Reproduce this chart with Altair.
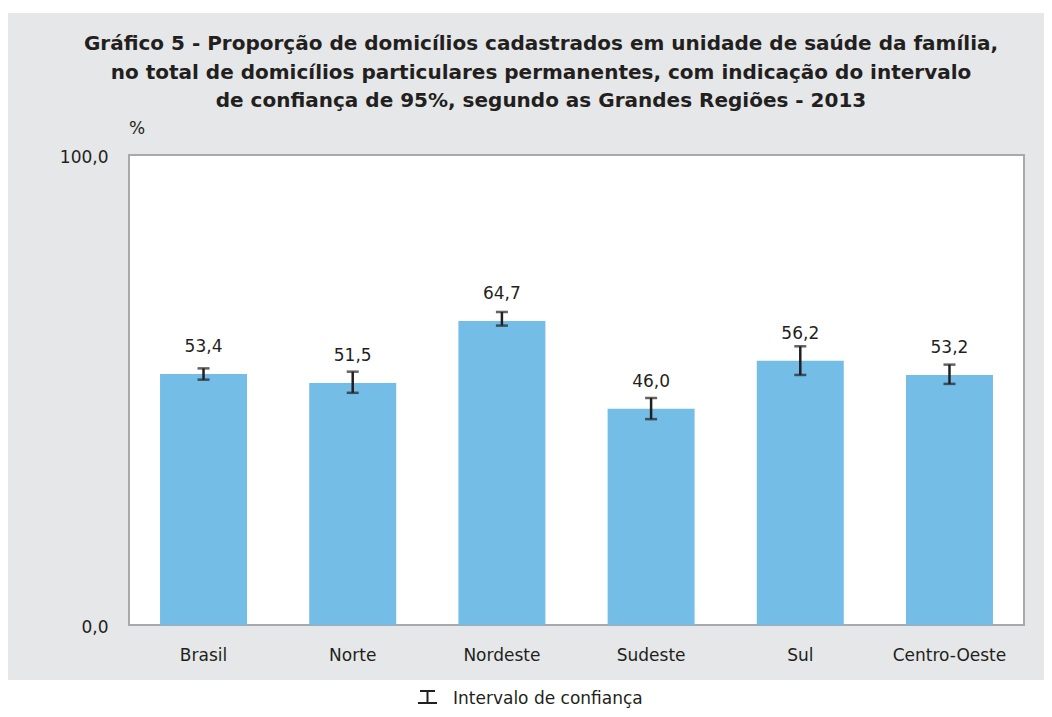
import altair as alt
import pandas as pd

regions = ["Brasil", "Norte", "Nordeste", "Sudeste", "Sul", "Centro-Oeste"]
values = [53.4, 51.5, 64.7, 46.0, 56.2, 53.2]
ci_low = [52.2, 49.4, 63.7, 43.8, 53.2, 51.3]
ci_high = [54.6, 53.9, 66.6, 48.3, 59.3, 55.4]
labels = ["53,4", "51,5", "64,7", "46,0", "56,2", "53,2"]

title_lines = [
    "Gráfico 5 - Proporção de domicílios cadastrados em unidade de saúde da família,",
    "no total de domicílios particulares permanentes, com indicação do intervalo",
    "de confiança de 95%, segundo as Grandes Regiões - 2013",
]
legend_label = "Intervalo de confiança"

df = pd.DataFrame({"regiao": regions, "valor": values, "lo": ci_low, "hi": ci_high, "rotulo": labels})

W, H = 895, 470
FONT = "DejaVu Sans"
TXT = "#231f20"
FS = 17

x_enc = alt.X("regiao:N", sort=regions, title=None,
              scale=alt.Scale(paddingInner=0.417, paddingOuter=0.208),
              axis=alt.Axis(labelFontSize=FS, labelColor=TXT, labelFont=FONT, ticks=False,
                            domain=False, labelPadding=22, labelAngle=0, zindex=1))
y_scale = alt.Scale(domain=[0, 100], nice=False)

base = alt.Chart(df)

# gray panel background
bg = alt.Chart(pd.DataFrame({"k": [1]})).mark_rect(color="#e6e7e8").encode(
    x=alt.value(-121), x2=alt.value(930), y=alt.value(-142), y2=alt.value(525))
# white plot area
plot_bg = alt.Chart(pd.DataFrame({"k": [1]})).mark_rect(
    color="white", stroke="#a7a9ac", strokeWidth=2).encode(
    x=alt.value(0), x2=alt.value(W), y=alt.value(0), y2=alt.value(H))

bars = base.mark_bar(color="#74bde7").encode(
    x=x_enc,
    y=alt.Y("valor:Q", scale=y_scale, title=None,
            axis=alt.Axis(values=[0, 100], labelExpr="replace(format(datum.value, '.1f'), '.', ',')",
                          labelFontSize=FS, labelColor=TXT, labelFont=FONT, ticks=False,
                          domain=False, grid=False, labelPadding=21, labelOffset=2, zindex=1)))

err = base.mark_rule(color=TXT, strokeWidth=2.5).encode(
    x=alt.X("regiao:N", sort=regions), y=alt.Y("lo:Q", scale=y_scale), y2="hi:Q")
cap_lo = base.mark_tick(color=TXT, thickness=2.5, size=12, orient="horizontal").encode(
    x=alt.X("regiao:N", sort=regions), y=alt.Y("lo:Q", scale=y_scale))
cap_hi = base.mark_tick(color=TXT, thickness=2.5, size=12, orient="horizontal").encode(
    x=alt.X("regiao:N", sort=regions), y=alt.Y("hi:Q", scale=y_scale))

vals = base.mark_text(fontSize=FS, font=FONT, color=TXT, baseline="alphabetic", dy=-22).encode(
    x=alt.X("regiao:N", sort=regions), y=alt.Y("valor:Q", scale=y_scale), text="rotulo:N")

tdf = pd.DataFrame({"t": title_lines, "yy": [-105, -76, -48]})
title = alt.Chart(tdf).mark_text(fontSize=20, font=FONT, fontWeight="bold", color=TXT,
                                 align="center", baseline="alphabetic").encode(
    x=alt.value(412), y=alt.Y("yy:Q", scale=None), text="t:N")

pct = alt.Chart(pd.DataFrame({"t": ["%"]})).mark_text(
    fontSize=FS, font=FONT, color=TXT, align="center", baseline="alphabetic").encode(
    x=alt.value(8), y=alt.value(-21), text="t:N")

# legend
leg_sym_top = alt.Chart(pd.DataFrame({"k": [1]})).mark_rule(color=TXT, strokeWidth=2).encode(
    x=alt.value(291), x2=alt.value(306), y=alt.value(536))
leg_sym_mid = alt.Chart(pd.DataFrame({"k": [1]})).mark_rule(color=TXT, strokeWidth=2).encode(
    x=alt.value(298.5), y=alt.value(536), y2=alt.value(548))
leg_sym_bot = alt.Chart(pd.DataFrame({"k": [1]})).mark_rule(color=TXT, strokeWidth=2).encode(
    x=alt.value(289), x2=alt.value(308), y=alt.value(548))
leg_text = alt.Chart(pd.DataFrame({"t": [legend_label]})).mark_text(
    fontSize=FS, font=FONT, color=TXT, align="left", baseline="alphabetic").encode(
    x=alt.value(324), y=alt.value(549), text="t:N")

chart = alt.layer(
    bg, plot_bg, bars, err, cap_lo, cap_hi, vals, title, pct,
    leg_sym_top, leg_sym_mid, leg_sym_bot, leg_text
).properties(
    width=W, height=H,
    autosize=alt.AutoSizeParams(type="none"),
    padding={"left": 121, "top": 147, "right": 20, "bottom": 84},
    background="white",
).configure_view(stroke=None)

chart.save("out.html", embed_options={"renderer": "svg", "actions": False})
